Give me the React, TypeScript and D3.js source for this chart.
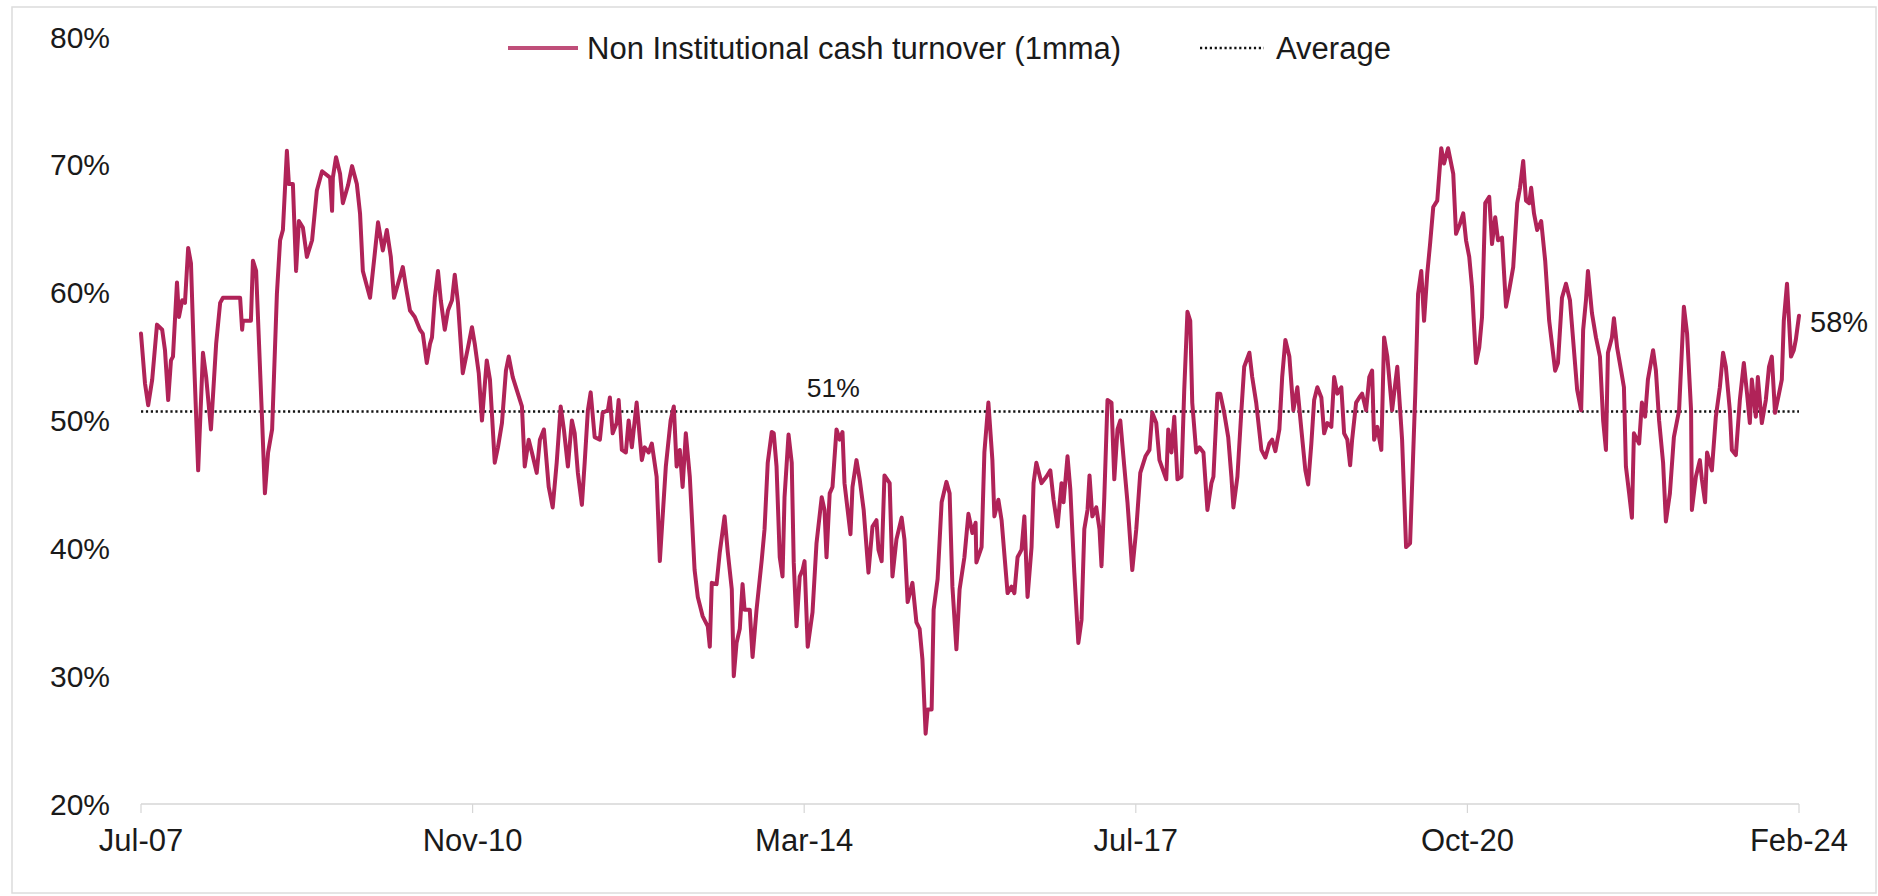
import React from "react";
import * as d3 from "d3";

// Non-institutional share of cash-market turnover, 1-month moving average.
// Each pair is [trading-day index since Jul-07, share in %].
const turnover: [number, number][] = [
  [0, 56.8], [10, 52.9], [18, 51.2], [28, 53.2], [40, 57.5], [53, 57.1], [60, 55.5], [68, 51.6], [75, 54.7], [80, 55.0],
  [90, 60.8], [95, 58.1], [103, 59.4], [110, 59.2], [118, 63.5], [125, 62.3], [133, 54.5], [143, 46.1], [155, 55.3], [163, 53.4],
  [175, 49.3], [188, 56.0], [198, 59.2], [205, 59.6], [248, 59.6], [253, 57.1], [255, 57.8], [275, 57.8], [280, 62.5], [288, 61.7],
  [303, 50.0], [310, 44.3], [318, 47.5], [328, 49.3], [340, 59.9], [348, 64.1], [355, 64.9], [365, 71.1], [370, 68.5], [380, 68.5],
  [388, 61.7], [395, 65.6], [405, 65.1], [415, 62.8], [428, 64.1], [440, 68.0], [453, 69.5], [473, 69.0], [478, 66.4], [480, 69.0],
  [488, 70.6], [498, 69.3], [505, 67.0], [518, 68.4], [528, 69.9], [540, 68.5], [548, 66.2], [555, 61.7], [573, 59.6], [585, 63.1],
  [593, 65.5], [605, 63.3], [615, 64.9], [625, 62.8], [633, 59.6], [643, 60.7], [655, 62.0], [663, 60.4], [673, 58.6], [685, 58.1],
  [698, 57.1], [705, 56.8], [715, 54.5], [723, 56.0],
  [728, 56.5], [735, 59.6], [743, 61.7], [750, 59.4], [760, 57.1], [768, 58.6], [778, 59.4], [785, 61.4], [793, 59.2], [805, 53.7],
  [818, 55.7], [828, 57.3], [835, 56.0], [845, 53.7], [853, 50.0], [865, 54.7], [873, 53.2], [885, 46.7], [893, 47.9], [903, 49.8],
  [913, 53.9], [920, 55.0], [930, 53.4], [940, 52.4], [953, 51.1], [960, 46.4], [970, 48.5], [978, 47.5], [990, 45.9], [998, 48.5],
  [1008, 49.3], [1020, 44.8], [1030, 43.2], [1040, 46.7], [1050, 51.1], [1058, 49.3], [1068, 46.4], [1078, 50.0], [1085, 49.0], [1093, 45.9],
  [1103, 43.4], [1110, 46.7], [1118, 50.8], [1125, 52.2], [1135, 48.7], [1148, 48.5], [1155, 50.6], [1168, 50.8], [1173, 51.8], [1180, 49.0],
  [1190, 49.8], [1195, 51.6], [1203, 47.7], [1213, 47.5], [1220, 50.0], [1228, 47.9], [1240, 51.4], [1253, 46.9], [1260, 47.9], [1270, 47.5],
  [1278, 48.2], [1290, 45.6], [1298, 39.0], [1313, 46.4], [1325, 50.0], [1333, 51.1], [1340, 46.4], [1348, 47.7], [1355, 44.8], [1363, 49.0],
  [1373, 45.6], [1385, 38.3], [1393, 36.2], [1405, 34.7], [1418, 33.9], [1423, 32.3], [1428, 37.3], [1440, 37.2], [1448, 39.7], [1460, 42.5],
  [1468, 39.7], [1478, 36.8], [1483, 30.0], [1490, 32.6], [1498, 33.7], [1505, 37.2], [1510, 35.2], [1523, 35.2], [1530, 31.5], [1540, 35.2],
  [1553, 39.1], [1560, 41.5], [1568, 46.7], [1578, 49.1], [1583, 49.0], [1590, 46.4], [1598, 39.3], [1605, 37.8], [1610, 44.0], [1620, 48.9],
  [1628, 46.7], [1633, 38.9], [1640, 33.9], [1648, 37.8], [1655, 38.3], [1660, 39.0], [1668, 32.3], [1680, 35.0], [1690, 40.4], [1703, 44.0],
  [1710, 43.0], [1715, 39.3], [1723, 44.3], [1730, 44.8], [1740, 49.3], [1748, 48.5], [1755, 49.1], [1760, 45.1], [1775, 41.1], [1780, 44.8],
  [1790, 46.9], [1798, 45.4], [1808, 43.0], [1820, 38.1], [1830, 41.7], [1840, 42.2], [1845, 39.9], [1853, 39.0], [1860, 45.7], [1873, 45.1],
  [1880, 37.8], [1890, 40.7], [1903, 42.4], [1910, 40.7], [1918, 35.8], [1930, 37.3], [1940, 34.2], [1948, 33.7], [1955, 31.3], [1963, 25.5],
  [1968, 27.4], [1978, 27.4], [1983, 35.2], [1993, 37.6], [2003, 43.6], [2015, 45.2], [2023, 44.3], [2030, 37.0], [2040, 32.1], [2048, 36.8],
  [2060, 39.3], [2070, 42.7], [2080, 41.2], [2088, 42.0], [2090, 38.9], [2103, 40.1], [2110, 47.5], [2120, 51.4], [2130, 46.9], [2135, 42.5],
  [2145, 43.8], [2153, 42.2], [2168, 36.5], [2178, 37.0], [2185, 36.5],
  [2193, 39.3], [2203, 39.9], [2210, 42.5], [2218, 36.2], [2228, 40.1], [2233, 45.1], [2240, 46.7], [2253, 45.1], [2265, 45.6], [2275, 46.1],
  [2283, 43.8], [2293, 41.7], [2303, 45.1], [2308, 43.6], [2318, 47.2], [2325, 44.6], [2335, 38.1], [2345, 32.6], [2353, 34.4], [2360, 41.5],
  [2368, 43.0], [2373, 45.7], [2380, 42.5], [2390, 43.2], [2398, 41.5], [2403, 38.6], [2410, 44.0], [2418, 51.6], [2428, 51.4], [2435, 45.4],
  [2443, 49.3], [2450, 50.0], [2460, 46.4], [2468, 43.6], [2480, 38.3], [2490, 41.5], [2500, 45.9], [2513, 47.2], [2523, 47.7], [2530, 50.6],
  [2540, 49.8], [2548, 46.9], [2565, 45.4], [2570, 49.3], [2578, 47.5], [2585, 50.3], [2593, 45.4], [2603, 45.6], [2610, 52.4], [2618, 58.5],
  [2625, 57.8], [2630, 51.4], [2640, 47.5], [2648, 47.9], [2658, 47.5], [2668, 43.0], [2678, 45.1], [2683, 45.6], [2693, 52.1], [2700, 52.1],
  [2710, 50.6], [2720, 48.7], [2728, 45.6], [2733, 43.2], [2743, 45.6], [2753, 50.8], [2760, 54.2], [2773, 55.3], [2780, 53.4], [2790, 51.4],
  [2803, 47.7], [2813, 47.1], [2823, 48.2], [2830, 48.5], [2838, 47.6], [2848, 49.3], [2855, 53.4], [2863, 56.3], [2873, 55.0], [2883, 50.8],
  [2893, 52.6], [2903, 49.3], [2913, 46.1], [2920, 45.0], [2928, 48.2], [2935, 51.6],
  [2943, 52.6], [2953, 51.8], [2960, 49.0], [2968, 49.8], [2978, 49.5], [2985, 53.4], [2993, 52.1], [3003, 52.6], [3010, 49.0], [3018, 48.5],
  [3025, 46.5], [3030, 48.5], [3040, 51.4], [3048, 51.8], [3055, 52.1], [3065, 50.8], [3073, 53.4], [3080, 53.9], [3085, 48.5], [3093, 49.5],
  [3103, 47.7], [3110, 56.5], [3118, 55.0], [3130, 50.8], [3143, 54.2], [3155, 48.5], [3165, 40.1], [3175, 40.4], [3188, 52.1], [3195, 59.9],
  [3203, 61.7], [3210, 57.8], [3218, 61.5], [3225, 63.8], [3233, 66.7], [3243, 67.2], [3253, 71.3], [3260, 70.1], [3270, 71.3], [3283, 69.3],
  [3290, 64.6], [3300, 65.4], [3308, 66.2], [3315, 64.1], [3323, 62.8], [3330, 60.4], [3340, 54.5], [3348, 55.7], [3355, 58.1], [3363, 67.0],
  [3373, 67.5], [3380, 63.8], [3388, 65.9], [3395, 64.1], [3405, 64.3], [3415, 58.9], [3423, 60.2], [3433, 62.0], [3443, 67.0], [3450, 68.2],
  [3458, 70.3], [3465, 67.2], [3473, 67.0], [3478, 68.2], [3485, 66.2], [3493, 64.9], [3503, 65.6], [3513, 62.5], [3523, 57.8], [3538, 53.9],
  [3545, 54.5], [3555, 59.6], [3565, 60.7], [3575, 59.4], [3585, 55.5], [3593, 52.4], [3603, 50.8], [3608, 57.1], [3615, 59.4], [3620, 61.7],
  [3630, 58.4], [3640, 56.5], [3650, 55.0], [3658, 50.0], [3665, 47.7],
  [3670, 55.3], [3680, 56.5], [3685, 58.0], [3693, 55.7], [3703, 53.9], [3710, 52.6], [3715, 46.4], [3723, 44.3], [3730, 42.4], [3735, 49.0],
  [3748, 48.2], [3755, 51.4], [3763, 50.3], [3770, 53.2], [3783, 55.5], [3790, 53.9], [3798, 50.0], [3808, 46.7], [3815, 42.1], [3825, 44.3],
  [3835, 48.7], [3848, 50.8], [3860, 58.9], [3868, 56.8], [3878, 50.8], [3880, 43.0], [3890, 45.6], [3900, 46.9], [3905, 45.4], [3913, 43.6],
  [3918, 47.5], [3930, 46.1], [3940, 50.3], [3950, 52.6], [3958, 55.3], [3965, 54.2], [3975, 50.8], [3980, 47.7], [3990, 47.3], [4000, 51.6],
  [4010, 54.5], [4018, 52.1], [4025, 49.8], [4030, 53.2], [4040, 50.3], [4045, 53.4], [4055, 49.8], [4065, 51.6], [4073, 54.2], [4080, 55.0],
  [4088, 50.6], [4098, 52.1], [4105, 53.2], [4110, 57.8], [4118, 60.7], [4128, 55.0], [4135, 55.5], [4140, 56.3], [4148, 58.2],
];

const averagePct = 50.7;
const averageLabelDay = 1732;

const xTickLabels = ["Jul-07", "Nov-10", "Mar-14", "Jul-17", "Oct-20", "Feb-24"];
const yTicks = [20, 30, 40, 50, 60, 70, 80];

const seriesName = "Non Institutional cash turnover (1mma)";
const averageName = "Average";

const WIDTH = 1878;
const HEIGHT = 896;
const LINE_COLOR = "#B02358";
const TEXT_COLOR = "#1a1a1a";
const AXIS_COLOR = "#d6d6d6";
const FONT = "'Liberation Sans', Arial, Helvetica, sans-serif";
const DOT_PATTERN = "2.2 2.7";

export default function App() {
  const lastDay = turnover[turnover.length - 1][0];
  const x = d3.scaleLinear().domain([0, lastDay]).range([141, 1799]);
  const y = d3.scaleLinear().domain([20, 80]).range([804, 37]);

  const line = d3
    .line<[number, number]>()
    .x((d) => x(d[0]))
    .y((d) => y(d[1]));

  const pct = (v: number) => `${Math.round(v)}%`;
  const tickStep = lastDay / (xTickLabels.length - 1);
  const last = turnover[turnover.length - 1];

  return (
    <svg
      width={WIDTH}
      height={HEIGHT}
      style={{ position: "absolute", left: 0, top: 0, background: "#fff" }}
      fontFamily={FONT}
    >
      <rect x={0} y={0} width={WIDTH} height={HEIGHT} fill="#fff" />
      <rect x={12} y={7} width={1864} height={886} fill="none" stroke="#dcdcdc" strokeWidth={1.5} />

      {/* legend */}
      <line x1={508} x2={578} y1={48} y2={48} stroke={LINE_COLOR} strokeWidth={4} opacity={0.8} />
      <text x={587} y={48} dominantBaseline="central" fontSize={31} fill={TEXT_COLOR}>
        {seriesName}
      </text>
      <line x1={1200} x2={1264} y1={48} y2={48} stroke="#111" strokeWidth={2.4} strokeDasharray={DOT_PATTERN} />
      <text x={1276} y={48} dominantBaseline="central" fontSize={31} fill={TEXT_COLOR}>
        {averageName}
      </text>

      {/* y tick labels */}
      {yTicks.map((t) => (
        <text key={t} x={110} y={y(t)} textAnchor="end" dominantBaseline="central" fontSize={30} fill={TEXT_COLOR}>
          {pct(t)}
        </text>
      ))}

      {/* x axis */}
      <line x1={x(0)} x2={x(lastDay)} y1={y(20)} y2={y(20)} stroke={AXIS_COLOR} strokeWidth={1.5} />
      {xTickLabels.map((label, i) => {
        const tx = x(i * tickStep);
        return (
          <g key={label}>
            <line x1={tx} x2={tx} y1={y(20)} y2={y(20) + 9} stroke={AXIS_COLOR} strokeWidth={1.2} />
            <text x={tx} y={840} textAnchor="middle" dominantBaseline="central" fontSize={31} fill={TEXT_COLOR}>
              {label}
            </text>
          </g>
        );
      })}

      {/* average */}
      <line
        x1={x(0)}
        x2={x(lastDay)}
        y1={y(averagePct)}
        y2={y(averagePct)}
        stroke="#111"
        strokeWidth={2.6}
        strokeDasharray={DOT_PATTERN}
      />

      {/* series */}
      <path
        d={line(turnover) ?? ""}
        fill="none"
        stroke={LINE_COLOR}
        strokeWidth={4}
        strokeLinejoin="round"
        strokeLinecap="round"
      />

      {/* value labels */}
      <text
        x={x(averageLabelDay)}
        y={y(averagePct) - 24}
        textAnchor="middle"
        dominantBaseline="central"
        fontSize={26.5}
        fill={TEXT_COLOR}
      >
        {pct(averagePct)}
      </text>
      <text x={x(last[0]) + 11} y={y(last[1]) + 6} dominantBaseline="central" fontSize={29} fill={TEXT_COLOR}>
        {pct(last[1])}
      </text>
    </svg>
  );
}
